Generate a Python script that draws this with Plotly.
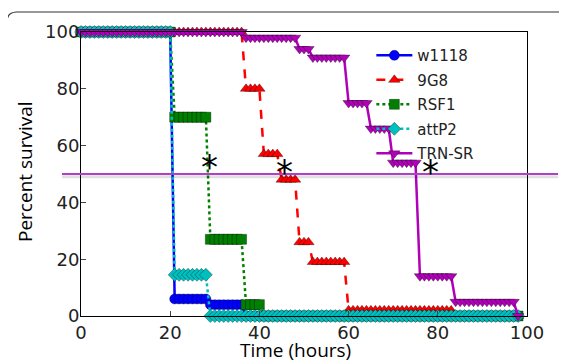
import plotly.graph_objects as go

# Time in hours (one observation per hour)
hours = list(range(0, 99))

w1118 = [100]*21 + [6]*8 + [4]*8 + [0]*62
g9g8 = [100]*37 + [80]*4 + [57]*4 + [48]*4 + [26]*3 + [19]*8 + [2]*24 + [0]*15
rsf1 = [100]*21 + [70]*8 + [27]*8 + [4]*4 + [0]*58
attp2 = [100]*21 + [14.5]*8 + [0]*70
trnsr = [100]*37 + [98]*12 + [94]*3 + [91]*8 + [75]*5 + [66]*5 + [54]*6 + [14]*8 + [5]*14 + [0]*1

names = ["w1118", "9G8", "RSF1", "attP2", "TRN-SR"]
colors = ["#0000ff", "#ff0000", "#007f00", "#00bfbf", "#b000b8"]
symbols = ["circle", "triangle-up", "square", "diamond", "triangle-down"]
dashes = ["solid", "dash", "dot", "dot", "solid"]
series = [w1118, g9g8, rsf1, attp2, trnsr]

star_x = [28.7, 45.7, 78.3]
star_y = [54, 52, 52]

x_ticks = [0, 20, 40, 60, 80, 100]
y_ticks = [0, 20, 40, 60, 80, 100]

fig = go.Figure()
for i, (nm, vals) in enumerate(zip(names, series)):
    fig.add_trace(go.Scatter(
        x=hours, y=vals, name=nm, mode="lines+markers", cliponaxis=False,
        line=dict(color=colors[i], width=2.5, dash=dashes[i]),
        marker=dict(symbol=symbols[i], size=10, color=colors[i],
                    line=dict(color="rgba(0,0,0,0.55)", width=0.6)),
        legendgroup=nm,
    ))

W, H = 567, 364
OFF = 8  # page body margin
# target plot area on screen: left 81, top 32, right 527, bottom 316
L, T = 81 - OFF, 32 - OFF
R, B = W - (527 - OFF), H - (316 - OFF)
pw, ph = W - L - R, H - T - B

def px(x):
    return (x - OFF - L) / pw

def py(y):
    return (H - B - (y - OFF)) / ph

# outer rounded frame
r = 10
frame = (f"M {px(7)} {py(380)} L {px(7)} {py(12 + r)} "
         f"Q {px(7)} {py(12)} {px(7 + r)} {py(12)} L {px(590)} {py(12)}")
fig.add_shape(type="path", path=frame, xref="paper", yref="paper",
              line=dict(color="#333333", width=1.2), layer="below")

# 50% line with soft shadow
fig.add_shape(type="line", xref="paper", yref="y", x0=px(62), x1=px(558),
              y0=49.0, y1=49.0, line=dict(color="rgba(0,0,0,0.12)", width=3))
fig.add_shape(type="line", xref="paper", yref="y", x0=px(62), x1=px(558),
              y0=50, y1=50, line=dict(color="#b040c8", width=2))

for sx, sy in zip(star_x, star_y):
    fig.add_annotation(x=sx, y=sy, text="*", showarrow=False,
                       font=dict(family="DejaVu Sans", size=34, color="black"),
                       yshift=-4)

# axis titles
fig.add_annotation(x=px(295), y=py(350), xref="paper", yref="paper",
                   text="Time (hours)", showarrow=False,
                   xanchor="center", yanchor="middle",
                   font=dict(family="Open Sans", size=19, color="black"))
fig.add_annotation(x=px(25), y=py(172), xref="paper", yref="paper",
                   text="Percent survival", showarrow=False, textangle=-90,
                   xanchor="center", yanchor="middle",
                   font=dict(family="Open Sans", size=19, color="black"))

fig.update_layout(
    width=W, height=H, margin=dict(l=L, r=R, t=T, b=B, autoexpand=False),
    paper_bgcolor="white", plot_bgcolor="white",
    showlegend=True,
    legend=dict(x=0.651, y=0.975, xanchor="left", yanchor="top",
                bgcolor="rgba(0,0,0,0)", font=dict(family="DejaVu Sans", size=15, color="#222"),
                itemwidth=36, traceorder="grouped", tracegroupgap=2),
    font=dict(family="DejaVu Sans", color="#222"),
)
fig.update_xaxes(range=[0, 100], tickvals=x_ticks, ticks="inside", ticklen=5,
                 showline=True, mirror=True, linecolor="black", linewidth=1,
                 showgrid=False, zeroline=False, automargin=False,
                 tickfont=dict(family="DejaVu Sans", size=18, color="#222"))
fig.update_yaxes(range=[0, 100], tickvals=y_ticks, ticks="inside", ticklen=5,
                 showline=True, mirror=True, linecolor="black", linewidth=1,
                 showgrid=False, zeroline=False, automargin=False,
                 ticklabelstandoff=-3,
                 tickfont=dict(family="DejaVu Sans", size=18, color="#222"))

fig.write_html("out.html")
